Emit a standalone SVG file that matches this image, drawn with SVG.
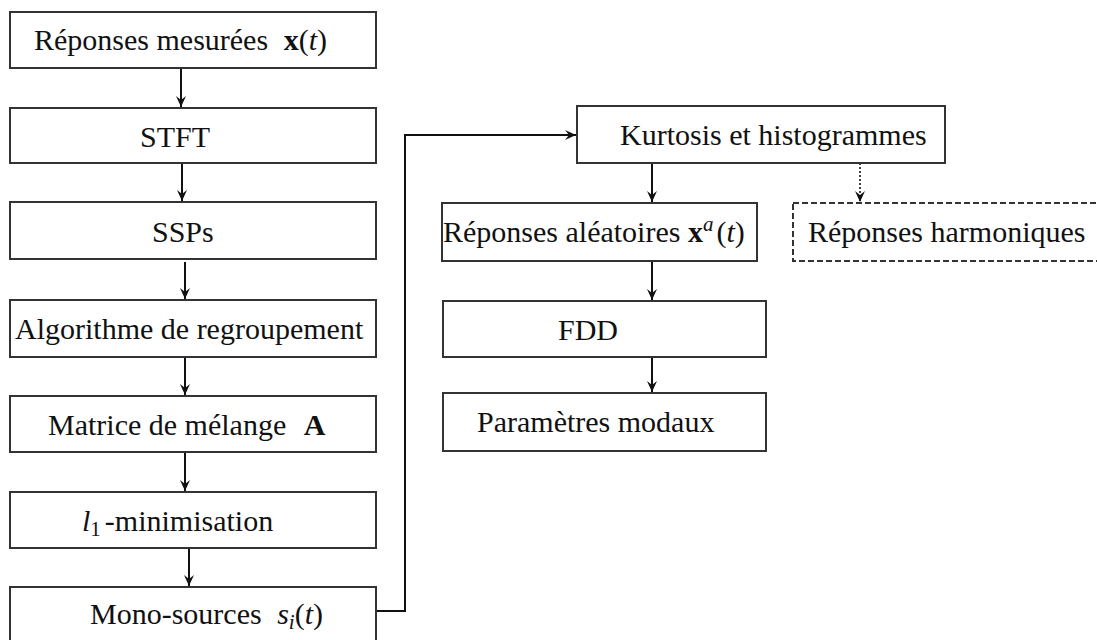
<svg xmlns="http://www.w3.org/2000/svg" width="1097" height="640" viewBox="0 0 1097 640">
<style>
.box{fill:#fff;stroke:#333;stroke-width:2}
.dash{fill:#fff;stroke:#333;stroke-width:2;stroke-dasharray:6,3}
.t{font-family:"Liberation Serif","Times New Roman",serif;font-size:30px;fill:#111}
.c{fill:none;stroke:#111;stroke-width:2}
.d{fill:none;stroke:#111;stroke-width:1.6;stroke-dasharray:2,2}
.b{font-weight:bold}
.i{font-style:italic}
</style>
<defs>
<marker id="ah" viewBox="0 0 12 12" refX="11" refY="6" markerWidth="12" markerHeight="12" markerUnits="userSpaceOnUse" orient="auto">
<path d="M0,1 L11,6 L0,11 L4,6 Z" fill="#111"/>
</marker>
</defs>
<rect width="1097" height="640" fill="#fff"/>
<g id="connectors">
<line class="c" x1="181" y1="68" x2="181" y2="107" marker-end="url(#ah)"/>
<line class="c" x1="182" y1="163" x2="182" y2="201" marker-end="url(#ah)"/>
<line class="c" x1="185" y1="262" x2="185" y2="299" marker-end="url(#ah)"/>
<line class="c" x1="185" y1="357" x2="185" y2="395" marker-end="url(#ah)"/>
<line class="c" x1="185" y1="452" x2="185" y2="491" marker-end="url(#ah)"/>
<line class="c" x1="189" y1="548" x2="189" y2="586" marker-end="url(#ah)"/>
<polyline class="c" points="376,611 405,611 405,135 576,135" marker-end="url(#ah)"/>
<line class="c" x1="652" y1="163" x2="652" y2="202" marker-end="url(#ah)"/>
<line class="c" x1="652" y1="261" x2="652" y2="300" marker-end="url(#ah)"/>
<line class="c" x1="652" y1="357" x2="652" y2="392" marker-end="url(#ah)"/>
<line class="d" x1="860" y1="163" x2="860" y2="202" marker-end="url(#ah)"/>
</g>
<g id="n1"><rect class="box" x="10" y="12" width="366" height="56"/>
<text class="t" x="34" y="50">Réponses mesurées <tspan dx="8" class="b">x</tspan>(<tspan class="i">t</tspan>)</text></g>
<g id="n2"><rect class="box" x="10" y="108" width="366" height="55"/>
<text class="t" x="140" y="147">STFT</text></g>
<g id="n3"><rect class="box" x="10" y="202" width="366" height="57"/>
<text class="t" x="152" y="242">SSPs</text></g>
<g id="n4"><rect class="box" x="10" y="300" width="366" height="57"/>
<text class="t" x="15" y="339">Algorithme de regroupement</text></g>
<g id="n5"><rect class="box" x="10" y="396" width="366" height="56"/>
<text class="t" x="48" y="435">Matrice de mélange <tspan dx="10" class="b">A</tspan></text></g>
<g id="n6"><rect class="box" x="10" y="492" width="366" height="56"/>
<text class="t" x="82" y="531"><tspan class="i">l</tspan><tspan font-size="21" dy="5">1</tspan><tspan dy="-5" dx="4">-minimisation</tspan></text></g>
<g id="n7"><rect class="box" x="10" y="587" width="366" height="60"/>
<text class="t" x="90" y="624">Mono-sources <tspan dx="8" class="i">s</tspan><tspan class="i" font-size="21" dy="5">i</tspan><tspan dy="-5">(</tspan><tspan class="i">t</tspan>)</text></g>
<g id="n8"><rect class="box" x="577" y="106" width="368" height="57"/>
<text class="t" x="620" y="145">Kurtosis et histogrammes</text></g>
<g id="n9"><rect class="box" x="442" y="203" width="315" height="58"/>
<text class="t" x="443" y="242">Réponses aléatoires <tspan class="b">x</tspan><tspan class="i" font-size="21" dy="-11">a</tspan><tspan dy="11" dx="3">(</tspan><tspan class="i">t</tspan>)</text></g>
<g id="n10"><rect class="dash" x="793" y="203" width="310" height="58"/>
<text class="t" x="808" y="242">Réponses harmoniques</text></g>
<g id="n11"><rect class="box" x="443" y="301" width="323" height="56"/>
<text class="t" x="558" y="340">FDD</text></g>
<g id="n12"><rect class="box" x="443" y="393" width="323" height="58"/>
<text class="t" x="477" y="432">Paramètres modaux</text></g>
</svg>
